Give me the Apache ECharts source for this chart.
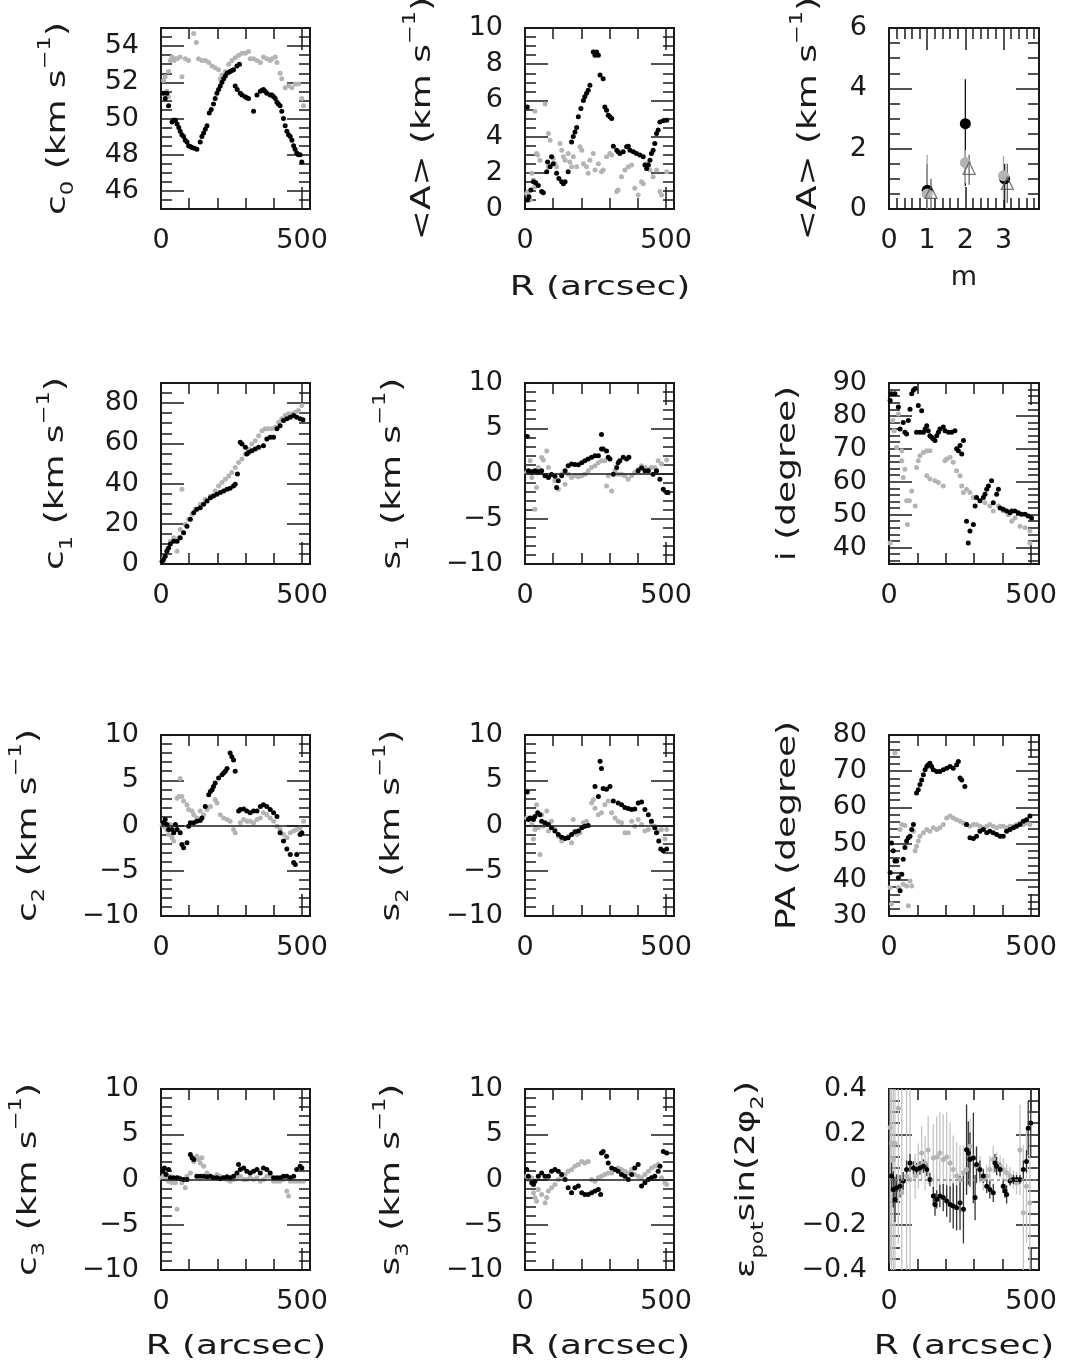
<!DOCTYPE html>
<html>
<head>
<meta charset="utf-8">
<script src="https://cdn.jsdelivr.net/npm/echarts@6/dist/echarts.min.js"></script>
<style>
html, body { margin: 0; background: #fff; }
#main { width: 1065px; height: 1372px; }
</style>
</head>
<body>
<div id="main"></div>
<script>
// ---- data: [R (arcsec), value] ----
var c0Black = [[9,51.4],[15,51.1],[21,51.4],[27,50.7],[39,49.8],[45,49.9],[51,49.9],[57,49.7],[63,49.5],[68,49.3],[74,49.1],[80,49.0],[86,48.8],[92,48.7],[98,48.5],[104,48.45],[110,48.4],[118,48.35],[127,48.3],[139,48.7],[145,49.0],[151,49.2],[157,49.4],[163,49.6],[171,50.3],[178,50.5],[186,50.8],[192,51.1],[198,51.4],[204,51.6],[210,51.8],[216,52.0],[222,52.2],[228,52.35],[234,52.5],[240,52.55],[245,52.6],[251,52.65],[257,52.7],[269,52.9],[278,53.0],[263,51.8],[270,51.6],[281,51.4],[287,51.3],[298,51.2],[304,51.15],[310,51.1],[328,50.4],[340,51.3],[352,51.5],[357,51.55],[363,51.6],[369,51.5],[375,51.4],[387,51.3],[393,51.3],[399,51.2],[405,51.1],[411,50.9],[416,50.8],[422,50.7],[428,50.4],[434,50.0],[440,49.6],[446,49.3],[452,49.1],[458,49.0],[464,48.8],[470,48.5],[475,48.3],[481,48.1],[487,48.0],[493,48.0],[499,47.6]];
var c0Grey = [[9,52.1],[15,52.3],[21,51.5],[27,51.2],[27,52.6],[33,53.2],[39,53.4],[45,53.2],[51,53.3],[57,53.3],[68,53.4],[74,52.3],[86,53.3],[98,53.2],[116,54.7],[125,54.2],[133,53.3],[145,53.2],[157,53.2],[169,53.1],[181,52.9],[192,52.8],[204,52.7],[210,52.2],[216,52.4],[228,52.6],[240,53.0],[251,53.2],[263,53.35],[275,53.5],[287,53.6],[299,53.6],[310,53.7],[316,53.3],[328,53.3],[340,53.2],[352,53.1],[363,53.4],[375,53.3],[387,53.2],[393,53.3],[405,53.4],[411,53.1],[422,52.5],[428,52.2],[440,51.7],[452,51.8],[464,51.7],[476,51.9],[487,51.9],[499,51.1],[505,50.7]];

var aBlack = [[8,5.64],[9,0.5],[14,0.68],[21,1.05],[30,1.5],[38,1.45],[47,1.3],[59,0.96],[65,0.9],[77,2.06],[80,2.6],[89,2.33],[94,2.89],[100,2.5],[112,1.97],[120,1.69],[130,1.5],[136,1.4],[142,1.5],[153,2.06],[165,3.7],[171,4.0],[177,4.26],[183,4.5],[189,5.1],[198,5.55],[207,6.0],[212,6.2],[218,6.4],[224,6.56],[230,6.84],[242,8.68],[248,8.5],[254,8.68],[260,8.5],[266,7.4],[277,7.2],[283,5.64],[289,5.46],[295,5.18],[301,5.09],[307,5.0],[313,3.47],[325,3.25],[330,3.16],[336,3.07],[348,3.16],[360,3.44],[366,3.47],[372,3.25],[384,3.16],[395,3.07],[407,2.98],[419,2.89],[425,2.43],[431,2.24],[437,2.43],[443,2.7],[448,3.07],[454,3.25],[460,3.62],[466,4.17],[472,4.36],[478,4.8],[490,4.87],[502,4.9]];
var aGrey = [[6,0.86],[12,0.96],[18,0.5],[24,1.97],[30,1.6],[35,1.23],[35,5.4],[41,3.07],[45,2.98],[53,2.7],[71,5.8],[83,4.17],[89,3.8],[83,2.33],[100,2.8],[106,2.5],[112,2.33],[124,3.62],[130,3.25],[136,2.89],[142,2.7],[153,3.07],[159,2.6],[165,2.33],[171,2.89],[183,2.33],[195,3.44],[201,3.25],[207,2.5],[218,2.33],[224,1.97],[230,2.7],[242,3.07],[248,2.15],[260,2.5],[271,2.06],[277,2.15],[289,2.89],[301,3.07],[307,2.98],[325,0.96],[330,1.05],[342,1.78],[354,2.15],[366,2.33],[378,2.43],[389,1.14],[401,0.77],[413,1.5],[419,1.4],[431,2.5],[443,2.15],[454,1.78],[466,2.15],[478,0.96],[484,0.77],[502,2.06]];

// <A> against harmonic number m: [m, value], error bars as low / high ends
var mBlack = [[1,0.62],[2,2.83],[3.03,1.0]];
var mBlackLo = [0,0.76,0];
var mBlackHi = [1.48,4.3,1.5];
var mGrey = [[1,0.5],[2,1.54],[3,1.1]];
var mGreyLo = [0,0.85,0.3];
var mGreyHi = [1.8,1.95,1.76];
var mTri = [[1.1,0.55],[2.1,1.35],[3.1,0.85]];
var mTriLo = [0,0.8,0.2];
var mTriHi = [1.0,1.8,1.5];

var c1Black = [[4,1.3],[9,2.2],[15,3.8],[21,6.3],[27,8],[33,10],[45,11.3],[57,11.3],[68,13],[80,15.5],[92,18.8],[104,22.2],[116,25.5],[127,27.2],[139,28],[151,29.7],[163,31.3],[175,33],[186,33.8],[198,34.7],[210,35.5],[222,36.3],[234,37.2],[245,37.7],[257,38.8],[263,39.7],[271,44.7],[281,60.5],[287,59.7],[299,58],[304,54.7],[310,55.5],[322,56.3],[334,57.2],[346,58],[363,58.8],[375,62.2],[387,63],[399,63],[411,67.2],[422,68.8],[434,71.3],[446,72.2],[458,73],[470,73.8],[481,73],[493,72.2],[503,71.7]];
var c1Grey = [[4,1.3],[9,3],[21,7.2],[33,11.3],[45,13],[57,6.3],[63,13],[68,17.2],[74,37.2],[86,19.7],[98,22.2],[110,24.7],[122,27.2],[139,29.7],[157,32.2],[175,33.8],[192,36.3],[204,38.8],[216,40.5],[228,42.2],[240,43.8],[251,45.5],[263,48],[275,50.5],[287,52.2],[299,54.7],[310,57.2],[322,59.7],[334,61.3],[346,63.8],[358,66.3],[369,67.2],[381,67.2],[393,67.2],[405,68],[417,70.5],[428,72.2],[440,73.8],[452,74.7],[464,74.7],[476,75.5],[487,76.3],[499,78.8]];

var s1Black = [[8,4.1],[12,0.3],[24,0.2],[35,0.3],[47,0.2],[59,0.3],[71,-0.26],[83,-0.44],[94,-0.1],[106,-0.3],[112,-1.56],[118,-0.8],[130,-0.26],[142,0.3],[153,0.85],[165,1.04],[177,1.0],[189,0.96],[201,1.2],[212,1.4],[224,1.6],[236,1.8],[248,1.96],[260,1.96],[271,2.7],[277,2.7],[271,4.3],[289,2.5],[295,1.8],[301,1.6],[313,-0.07],[325,0.67],[330,1.2],[336,1.4],[348,1.8],[360,1.6],[368,1.8],[401,0.3],[413,0.6],[425,0.3],[437,0.3],[454,-0.07],[466,0.3],[478,-0.63],[490,-1.74],[502,-2.1],[507,-2.1]];
var s1Grey = [[6,0.1],[18,1.4],[24,-0.44],[41,-1.56],[35,-3.96],[47,0.67],[59,1.78],[65,1.5],[77,2.5],[83,0.67],[94,-0.07],[106,-0.8],[118,-1.74],[130,-0.07],[142,-1.2],[153,-0.07],[165,-0.44],[177,-0.26],[189,-0.37],[201,-0.26],[212,-0.07],[224,0.3],[236,0.67],[248,0.85],[260,1.2],[271,1.4],[283,1.4],[289,-1.37],[295,-0.26],[307,-1.93],[319,0.3],[330,-0.07],[342,-0.07],[354,-0.26],[366,-0.63],[378,-0.26],[389,0.1],[401,0.48],[413,0.85],[425,0.67],[437,0.48],[448,0.67],[460,0.67],[472,1.4],[484,1.04],[502,1.48]];

var incBlack = [[4,84.7],[9,86.7],[21,86.7],[33,82.7],[39,76],[50,78],[56,75],[62,74.5],[68,78.6],[74,82],[80,86.7],[86,87.8],[92,88.3],[103,83.2],[115,81.6],[97,75],[109,75],[121,75],[127,76],[133,77],[138,75.5],[144,74],[150,73.5],[156,73],[162,72.5],[168,74],[174,75],[179,76],[191,76.6],[197,75.5],[209,75],[221,75],[232,75.5],[238,70],[244,69.4],[250,71],[256,68.4],[262,72.5],[273,48],[279,41.4],[285,45],[297,47],[303,52.6],[308,55.2],[320,54.2],[332,55.2],[338,56.2],[344,57.7],[350,58.7],[361,60.3],[367,53.6],[379,56.2],[385,57.7],[391,52],[402,51.6],[414,51.1],[426,50.6],[432,51.1],[443,51.1],[455,50.6],[467,50.1],[479,50.1],[490,49.6],[502,49]];
var incGrey = [[4,41.4],[13,78.6],[18,75.5],[27,70.4],[33,80.6],[45,69.4],[45,66.4],[50,61.3],[56,63.8],[62,54.2],[65,47],[72,54.2],[80,57.2],[92,52.6],[97,64.3],[103,66.4],[109,67.9],[121,68.9],[133,69.4],[144,69.4],[133,61.8],[144,60.8],[162,60.3],[174,59.8],[191,58.7],[197,66.4],[203,66.9],[215,67.4],[226,65.9],[238,63.3],[250,61.8],[256,58.7],[262,56.7],[273,57.7],[285,56.7],[297,55.2],[308,55.2],[320,54.2],[338,53.6],[355,52.6],[367,51.1],[385,52.6],[402,51.1],[420,50],[432,48],[443,49],[461,46.5],[479,46],[496,45],[496,41.4]];

var c2Black = [[9,0.3],[15,0.66],[21,0.1],[27,-0.44],[39,-0.44],[45,-0.8],[51,0.1],[57,-0.44],[68,-0.8],[74,-2.1],[80,-2.45],[92,-1.9],[98,-0.07],[104,0.3],[116,0.3],[127,0.48],[139,0.55],[145,0.84],[157,2.1],[169,3.4],[175,3.77],[181,3.96],[186,4.3],[192,4.7],[204,5.24],[216,5.6],[222,5.8],[228,6.0],[234,6.3],[245,8.0],[251,7.6],[257,7.25],[263,6.0],[275,1.6],[281,1.76],[293,1.83],[304,1.6],[316,1.4],[328,1.6],[340,1.6],[352,2.1],[363,2.3],[375,2.1],[387,1.76],[399,1.4],[411,1.0],[422,-0.8],[434,-1.7],[446,-2.6],[458,-3.2],[470,-4.1],[476,-4.3],[481,-3.2],[493,-1.0],[499,-0.8]];
var c2Grey = [[4,0.1],[9,-0.1],[21,-0.44],[27,-1.0],[33,0.1],[39,-1.35],[45,-1.7],[51,-0.5],[57,3.0],[63,3.2],[68,5.2],[74,3.2],[80,2.7],[92,2.3],[98,1.76],[110,1.6],[116,1.2],[127,0.84],[139,1.6],[151,1.2],[163,1.76],[175,2.1],[192,2.85],[198,2.5],[210,1.2],[222,0.84],[234,0.66],[245,0.48],[257,-0.44],[263,-0.8],[281,0.3],[293,0.66],[304,0.48],[316,0.48],[328,0.3],[340,0.66],[352,0.84],[363,1.4],[375,1.2],[387,0.84],[399,0.48],[411,-0.07],[422,-0.44],[434,-1.0],[446,-1.35],[458,-0.8],[470,-0.62],[481,-0.44],[493,-0.26],[505,0.48]];

var s2Black = [[8,3.7],[12,0.66],[18,0.84],[30,0.66],[35,1.0],[45,1.4],[53,1.2],[59,0.48],[71,0.3],[83,0.1],[94,-0.26],[106,-0.62],[118,-1.0],[130,-1.3],[142,-1.43],[153,-1.35],[165,-1.0],[177,-0.7],[189,-0.62],[201,-0.26],[212,-0.07],[224,0],[248,4.3],[260,3.2],[266,7.1],[271,6.3],[277,4.1],[289,4.0],[301,4.3],[313,2.7],[330,2.5],[342,2.3],[354,2.0],[366,1.87],[378,1.76],[389,1.83],[401,2.5],[413,2.6],[425,1.76],[437,1.2],[448,0.48],[460,-0.26],[466,-0.8],[474,-1.7],[481,-2.6],[490,-2.8],[502,-2.6]];
var s2Grey = [[6,0.84],[12,0.66],[24,0.1],[30,-1.5],[35,-0.44],[41,2.3],[47,-0.26],[53,-3.2],[59,1.2],[65,-0.07],[77,1.6],[83,-0.62],[94,0.48],[106,-0.44],[118,-1.2],[130,-1.7],[142,-1.35],[153,-1.2],[165,-1.9],[171,0.66],[183,-1.0],[195,-0.8],[207,0.3],[218,0.48],[236,2.5],[242,2.85],[248,1.9],[260,1.2],[271,1.4],[283,2.3],[295,2.7],[307,1.4],[319,0.84],[330,0.48],[342,0.3],[354,-0.8],[366,-0.8],[378,0.48],[389,-0.07],[401,0.66],[413,0.1],[425,-0.62],[437,-0.44],[448,0.3],[460,-0.07],[472,-0.62],[484,-0.44],[496,-1.5],[502,-0.44]];

var paBlack = [[4,42],[9,50.2],[15,48],[21,45.2],[27,45.2],[33,40.6],[39,37],[45,41.5],[50,45.7],[56,48.9],[62,50.7],[68,51.6],[74,52],[80,53.9],[86,55.3],[97,64],[103,64.9],[109,66.3],[115,67.6],[121,69],[127,70.4],[133,71.3],[138,71.8],[144,72.2],[150,71.3],[156,70.4],[168,69.9],[179,69.9],[191,70.4],[203,70.8],[215,71.3],[226,70.8],[238,71.8],[244,72.7],[250,68.1],[256,67.6],[267,65.8],[273,55.3],[285,51.6],[297,51.4],[308,52],[320,53.4],[332,53.9],[344,53],[355,53.4],[367,53],[379,52.5],[391,52],[402,52],[414,53.4],[426,53.9],[438,54.4],[449,54.8],[461,55.3],[473,56.2],[484,56.6],[496,57.6]];
var paGrey = [[4,37.9],[9,33.3],[21,75],[33,37.9],[39,53.9],[45,55.3],[50,38.8],[56,55],[62,38.3],[68,32.8],[74,39.7],[80,38.3],[86,53.4],[92,48],[97,49.3],[103,50.7],[109,52],[121,53],[133,53.9],[144,53.4],[156,54.4],[168,53.9],[179,54.4],[191,55.3],[203,57.1],[215,57.6],[226,57.1],[238,56.6],[250,56.2],[262,55.7],[273,55.3],[285,54.8],[297,55.3],[308,55.3],[320,54.8],[332,54.4],[344,54.8],[355,55.3],[367,54.8],[379,54.4],[391,54.8],[402,54.8],[414,54.4],[426,54.8],[438,54.8],[449,55.3],[461,55.7],[473,55.3],[484,55.7],[496,55.3]];

var c3Black = [[6,0.9],[12,1.28],[18,0.55],[27,1.1],[33,0.18],[45,0.18],[57,0.18],[68,0.07],[80,0],[92,0],[104,2.75],[110,2.4],[116,2.2],[127,0.37],[139,0.37],[151,0.37],[163,0.3],[175,0.37],[186,0.18],[198,0.18],[210,0.07],[222,0.18],[234,0.3],[245,0.18],[257,0.37],[269,0.73],[275,1.65],[281,1.1],[293,1.28],[304,0.9],[316,0.73],[328,0.9],[340,1.1],[352,0.73],[363,1.28],[375,1.1],[387,0.73],[399,0.18],[411,0.18],[422,0.18],[434,0.37],[446,0.37],[458,0.18],[470,0.37],[481,1.1],[493,1.46],[499,1.28]];
var c3Grey = [[4,0.18],[9,0.37],[15,0.73],[21,0],[27,-0.18],[33,0.37],[39,-0.37],[45,0],[51,-0.37],[57,-3.3],[63,0.18],[74,-0.37],[86,-0.9],[92,0.37],[104,0.73],[116,2.0],[122,2.4],[127,2.56],[133,2.2],[139,1.83],[145,2.4],[151,1.46],[163,0.73],[175,0.37],[186,0.18],[198,0.55],[210,0.37],[222,0.18],[234,0],[245,-0.18],[257,0],[269,0.18],[281,0.37],[293,0],[304,0],[316,0.18],[328,0],[340,0.18],[352,-0.18],[363,0],[375,0.37],[387,0.37],[399,-0.18],[411,-0.18],[422,-0.18],[434,0],[446,-1.28],[452,-1.83],[458,-0.18],[470,-0.18],[481,-0.18],[493,-0.18],[505,-0.18]];

var s3Black = [[6,1.1],[12,0.37],[24,-0.37],[30,-0.55],[35,-0.18],[47,0.37],[59,0.73],[71,0.37],[83,0.37],[94,0.9],[106,1.1],[118,0.9],[130,0.55],[142,0],[153,-0.9],[165,-1.46],[177,-0.9],[189,-0.73],[201,-1.46],[212,-1.65],[224,-1.65],[236,-1.46],[248,-1.28],[260,-1.1],[268,-1.65],[271,2.93],[277,3.1],[289,2.56],[295,1.83],[307,1.28],[319,1.1],[330,0.9],[342,0.55],[354,0.37],[366,0],[378,0.55],[389,1.28],[401,1.65],[413,-0.73],[425,-0.37],[437,0],[448,0.18],[460,0.37],[472,0.9],[478,1.46],[490,3.1],[502,2.93]];
var s3Grey = [[6,0.37],[12,0],[24,0.18],[30,-1.46],[35,-2.0],[41,-2.4],[47,-1.1],[59,-1.65],[71,-2.56],[77,-2.0],[83,-1.28],[94,-0.9],[106,-0.55],[118,0],[130,0.37],[142,0.55],[153,0.9],[165,1.1],[177,1.46],[189,1.65],[201,2.0],[212,1.83],[224,2.0],[236,0],[248,-0.18],[260,0.18],[271,0.37],[283,0.55],[295,0.73],[307,0.73],[319,1.1],[330,1.28],[342,1.1],[354,0.9],[366,0.73],[378,1.1],[389,0.55],[401,0.37],[413,0.18],[425,0.55],[437,0.9],[448,1.28],[460,1.46],[472,1.65],[484,0.18],[496,-0.37],[502,-0.55]];

var epsBlack = [[9,0.015],[15,-0.044],[21,-0.088],[27,-0.037],[39,-0.03],[50,-0.007],[62,0.044],[74,0.073],[86,0.051],[97,0.044],[109,0.051],[121,0.059],[133,0.044],[144,0],[156,-0.073],[162,-0.11],[168,-0.088],[179,-0.073],[191,-0.08],[203,-0.095],[215,-0.11],[226,-0.117],[238,-0.125],[250,-0.103],[262,-0.132],[273,0.132],[279,0.117],[285,0.088],[297,0.095],[303,-0.08],[308,0.066],[320,0.044],[332,0.015],[344,-0.03],[355,-0.044],[367,-0.059],[373,0.073],[379,0.059],[391,0.044],[402,-0.03],[408,-0.051],[414,-0.066],[426,-0.007],[438,0],[449,0],[461,0],[473,0.044],[484,0.08],[490,0.227],[499,0.25]];
var epsBlackErr = [0.06,0.08,0.1,0.06,0.05,0.04,0.04,0.04,0.03,0.03,0.03,0.03,0.03,0.03,0.04,0.05,0.04,0.05,0.06,0.07,0.08,0.1,0.1,0.12,0.15,0.2,0.14,0.12,0.2,0.1,0.08,0.04,0.03,0.03,0.04,0.04,0.04,0.04,0.03,0.03,0.03,0.04,0.02,0.02,0.02,0.02,0.04,0.05,0.12,0.15];
var epsGrey = [[4,0.23],[9,0.16],[15,0.088],[21,0.16],[33,0.315],[45,-0.059],[62,0.015],[74,0],[92,0.015],[103,0.059],[115,0.117],[127,0.073],[138,0.13],[156,0.095],[168,0.1],[179,0.117],[191,0.088],[203,0.1],[215,0.073],[226,0.044],[238,0.015],[250,0],[262,0.03],[273,0.044],[285,0.147],[297,0.1],[308,0.059],[320,0.044],[332,0],[344,0.015],[355,0.044],[367,0.088],[379,0.073],[391,0.059],[402,0.044],[414,0.03],[426,0.015],[438,0],[449,-0.015],[461,0.13],[473,-0.147],[484,-0.03],[496,-0.103]];
var epsGreyErr = [0.6,0.6,0.6,0.6,0.6,0.6,0.6,0.5,0.1,0.1,0.12,0.12,0.15,0.15,0.18,0.18,0.2,0.2,0.18,0.15,0.15,0.15,0.12,0.1,0.12,0.1,0.08,0.06,0.05,0.05,0.06,0.06,0.05,0.05,0.05,0.04,0.04,0.04,0.05,0.2,0.3,0.25,0.3];

// ---- look ----
var FONT = 'DejaVu Sans';
var INK = '#1a1a1a';
var GREY = '#b4b4b4';
var FS = 27;
var STRETCH = 1.33;   // the plot font runs wider than DejaVu

var colLeft = [161, 525, 889];
var colWidth = [149, 149, 150];
var rowTop = [28, 383, 735, 1089];
var rowHeight = 181;

function ticks(a, b, step) {
    var out = [];
    var n = Math.round((b - a) / step);
    for (var i = 0; i <= n; i++) out.push(+(a + i * step).toFixed(4));
    return out;
}
function fmt(v) {
    return String(+(+v).toFixed(4)).replace('-', '\u2212');
}

var rRange = [0, 528];
var rMajor = [0, 500];
var rMinor = ticks(0, 500, 100);
var velMajor = ticks(-10, 10, 5);
var velMinor = ticks(-10, 10, 1);
var KMS = ' (km s{sup|\u22121})';

var panels = [
    { name: 'c{sub|0}' + KMS, nameX: 57.5, y: [45, 55], yMajor: ticks(46, 54, 2), yMinor: ticks(45, 55, 0.5), grey: c0Grey, black: c0Black },
    { name: '<A>' + KMS, nameX: 422.5, y: [0, 10], yMajor: ticks(0, 10, 2), yMinor: ticks(0, 10, 0.5), grey: aGrey, black: aBlack },
    { name: '<A>' + KMS, nameX: 809, x: [0, 3.93], xMajor: [0, 1, 2, 3], xMinor: ticks(0, 3.8, 0.2), y: [0, 6], yMajor: ticks(0, 6, 2), yMinor: ticks(0, 6, 0.5), harmonics: true },
    { name: 'c{sub|1}' + KMS, nameX: 56, y: [0, 90], yMajor: ticks(0, 80, 20), yMinor: ticks(0, 90, 5), grey: c1Grey, black: c1Black },
    { name: 's{sub|1}' + KMS, nameX: 392.5, y: [-10, 10], yMajor: velMajor, yMinor: velMinor, grey: s1Grey, black: s1Black, zero: true },
    { name: 'i (degree)', nameX: 787.5, y: [35, 90], yMajor: ticks(40, 90, 10), yMinor: ticks(36, 90, 2), grey: incGrey, black: incBlack },
    { name: 'c{sub|2}' + KMS, nameX: 28.5, y: [-10, 10], yMajor: velMajor, yMinor: velMinor, grey: c2Grey, black: c2Black, zero: true },
    { name: 's{sub|2}' + KMS, nameX: 391.7, y: [-10, 10], yMajor: velMajor, yMinor: velMinor, grey: s2Grey, black: s2Black, zero: true },
    { name: 'PA (degree)', nameX: 788, y: [30, 80], yMajor: ticks(30, 80, 10), yMinor: ticks(30, 80, 2), grey: paGrey, black: paBlack },
    { name: 'c{sub|3}' + KMS, nameX: 28.5, y: [-10, 10], yMajor: velMajor, yMinor: velMinor, grey: c3Grey, black: c3Black, zero: true },
    { name: 's{sub|3}' + KMS, nameX: 391.7, y: [-10, 10], yMajor: velMajor, yMinor: velMinor, grey: s3Grey, black: s3Black, zero: true },
    { name: '\u03b5{sub|pot}sin(2\u03c6{sub|2})', nameX: 747, y: [-0.4, 0.4], yMajor: ticks(-0.4, 0.4, 0.2), yMinor: ticks(-0.4, 0.4, 0.05), grey: epsGrey, black: epsBlack, greyErr: epsGreyErr, blackErr: epsBlackErr, zero: 'dotted' }
];

// x-axis titles: [text, centre x, centre y, stretched]
var xTitles = [
    ['R (arcsec)', 600, 288, true],
    ['m', 964, 278, false],
    ['R (arcsec)', 236, 1347, true],
    ['R (arcsec)', 600, 1347, true],
    ['R (arcsec)', 964, 1347, true]
];

var richStyle = {
    sub: { fontSize: 17, lineHeight: 17, verticalAlign: 'bottom', fontFamily: FONT, fill: INK },
    sup: { fontSize: 17, lineHeight: 17, verticalAlign: 'top', fontFamily: FONT, fill: INK }
};

function axisDef(gi, range, pos, tickVals, len, labels) {
    return {
        type: 'value', gridIndex: gi, position: pos,
        min: range[0], max: range[1],
        splitLine: { show: false },
        axisLine: { show: true, onZero: false, lineStyle: { color: INK, width: 2 } },
        axisTick: { show: true, inside: true, length: len, customValues: tickVals, lineStyle: { color: INK, width: 1.5 } },
        axisLabel: labels ? {
            show: true, customValues: labels, margin: pos === 'bottom' ? 18 : 22,
            fontSize: FS, fontFamily: FONT, color: INK, formatter: fmt,
            showMinLabel: true, showMaxLabel: true
        } : { show: false },
        axisPointer: { show: false }
    };
}

function errRender(params, api) {
    var x = api.value(0);
    var p1 = api.coord([x, api.value(1)]);
    var p2 = api.coord([x, api.value(2)]);
    return {
        type: 'line',
        shape: { x1: p1[0], y1: p1[1], x2: p2[0], y2: p2[1] },
        style: { stroke: api.visual('color'), lineWidth: 1.3 }
    };
}
function errSeries(xi, yi, rows, color) {
    return {
        type: 'custom', xAxisIndex: xi, yAxisIndex: yi, clip: true,
        itemStyle: { color: color }, renderItem: errRender, data: rows, silent: true
    };
}
function dots(xi, yi, data, color, size) {
    return {
        type: 'scatter', xAxisIndex: xi, yAxisIndex: yi, data: data,
        symbolSize: size || 5, itemStyle: { color: color, opacity: 1 }, silent: true
    };
}
function spread(pts, err) {
    return pts.map(function (p, i) { return [p[0], p[1] - err[i], p[1] + err[i]]; });
}
function span(pts, lo, hi) {
    return pts.map(function (p, i) { return [p[0], lo[i], hi[i]]; });
}

var grids = [], xAxes = [], yAxes = [], series = [], titles = [];

panels.forEach(function (p, k) {
    var row = Math.floor(k / 3), col = k % 3;
    grids.push({ left: colLeft[col], top: rowTop[row], width: colWidth[col], height: rowHeight, containLabel: false });

    var xr = p.x || rRange, xMaj = p.xMajor || rMajor, xMin = p.xMinor || rMinor;
    var xBase = xAxes.length, yBase = yAxes.length;

    xAxes.push(axisDef(k, xr, 'bottom', xMin, 11, null));
    xAxes.push(axisDef(k, xr, 'bottom', xMaj, 22, xMaj));
    xAxes.push(axisDef(k, xr, 'top', xMin, 11, null));
    xAxes.push(axisDef(k, xr, 'top', xMaj, 22, null));

    yAxes.push(axisDef(k, p.y, 'left', p.yMinor, 11, null));
    yAxes.push(axisDef(k, p.y, 'left', p.yMajor, 23, p.yMajor));
    yAxes.push(axisDef(k, p.y, 'right', p.yMinor, 11, null));
    yAxes.push(axisDef(k, p.y, 'right', p.yMajor, 23, null));

    // rotated y title, stretched along the reading direction
    titles.push({
        type: 'text', x: p.nameX, y: rowTop[row] + rowHeight / 2,
        rotation: Math.PI / 2, scaleX: STRETCH, silent: true,
        style: {
            text: p.name, fontSize: FS, fontFamily: FONT, fill: INK, lineHeight: 40,
            align: 'center', verticalAlign: 'middle', rich: richStyle
        }
    });

    var xi = xBase + 1, yi = yBase + 1;

    if (p.harmonics) {
        series.push(errSeries(xi, yi, span(mBlack, mBlackLo, mBlackHi), '#111'));
        series.push(dots(xi, yi, mBlack, '#000', 11));
        series.push(errSeries(xi, yi, span(mGrey, mGreyLo, mGreyHi), '#a8a8a8'));
        series.push(dots(xi, yi, mGrey, GREY, 11));
        series.push(errSeries(xi, yi, span(mTri, mTriLo, mTriHi), '#666'));
        series.push({
            type: 'scatter', xAxisIndex: xi, yAxisIndex: yi, data: mTri, symbol: 'triangle', symbolSize: 12,
            itemStyle: { color: 'rgba(255,255,255,0)', borderColor: '#555', borderWidth: 1.3 }, silent: true
        });
        return;
    }

    if (p.greyErr) series.push(errSeries(xi, yi, spread(p.grey, p.greyErr), '#c4c4c4'));
    var g = dots(xi, yi, p.grey, GREY);
    if (p.zero) {
        g.markLine = {
            silent: true, symbol: 'none', label: { show: false },
            lineStyle: p.zero === 'dotted'
                ? { color: '#888', width: 1.5, type: [3, 3] }
                : { color: INK, width: 1.5, type: 'solid' },
            data: [{ yAxis: 0 }]
        };
    }
    series.push(g);
    if (p.blackErr) series.push(errSeries(xi, yi, spread(p.black, p.blackErr), '#333'));
    series.push(dots(xi, yi, p.black, '#000'));
});

xTitles.forEach(function (t) {
    titles.push({
        type: 'text', x: t[1], y: t[2], scaleX: t[3] ? STRETCH : 1, silent: true,
        style: { text: t[0], fontSize: FS, fontFamily: FONT, fill: INK, align: 'center', verticalAlign: 'middle' }
    });
});

var chart = echarts.init(document.getElementById('main'));
chart.setOption({
    animation: false,
    backgroundColor: '#fff',
    grid: grids,
    xAxis: xAxes,
    yAxis: yAxes,
    series: series,
    graphic: { elements: titles }
});
</script>
</body>
</html>
